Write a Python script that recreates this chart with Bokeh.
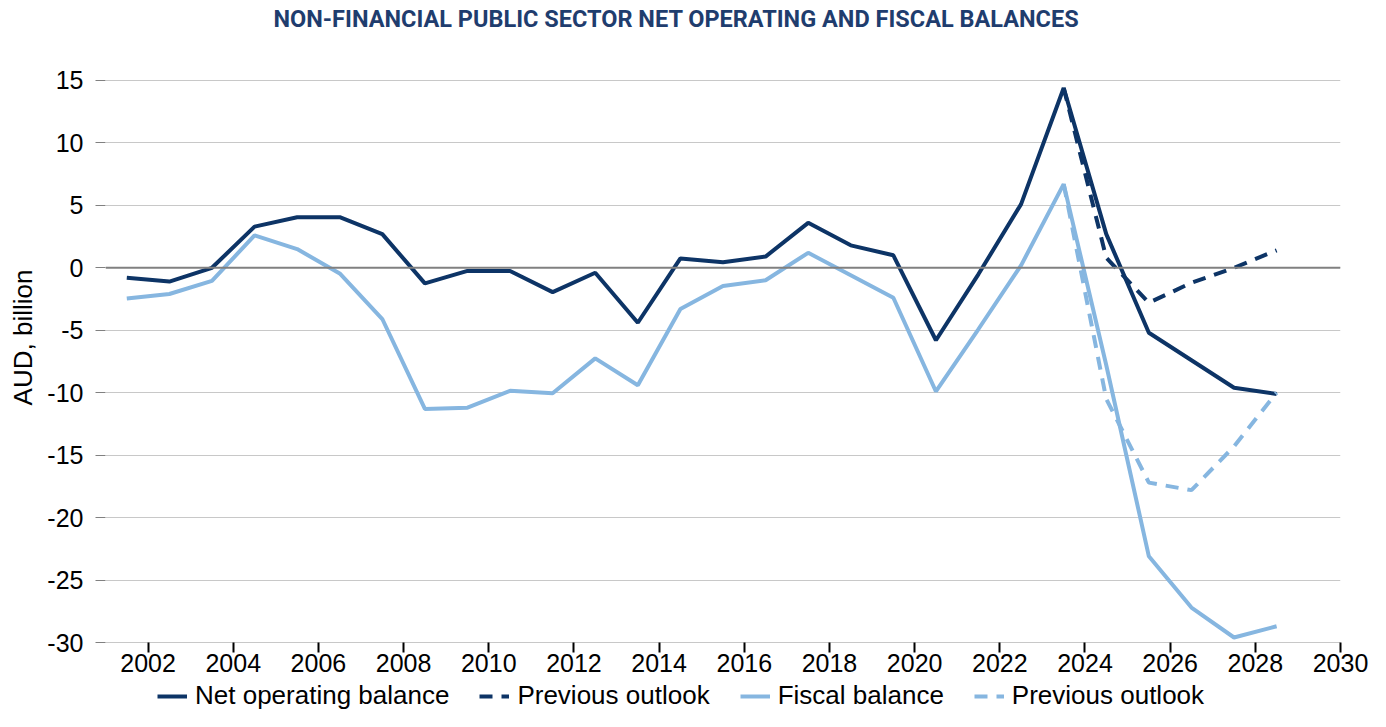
from bokeh.plotting import figure
from bokeh.layouts import column
from bokeh.models import FixedTicker, Span, Legend, LegendItem
from bokeh.embed import file_html
from bokeh.resources import INLINE

# ---- data (fiscal years, plotted at mid-year positions) ----
x_years = [2001.5, 2002.5, 2003.5, 2004.5, 2005.5, 2006.5, 2007.5, 2008.5, 2009.5, 2010.5,
           2011.5, 2012.5, 2013.5, 2014.5, 2015.5, 2016.5, 2017.5, 2018.5, 2019.5, 2020.5,
           2021.5, 2022.5, 2023.5, 2024.5, 2025.5, 2026.5, 2027.5, 2028.5]
net_operating = [-0.8, -1.1, 0.0, 3.3, 4.05, 4.05, 2.7, -1.25, -0.25, -0.25,
                 -1.95, -0.4, -4.4, 0.75, 0.45, 0.9, 3.6, 1.8, 1.0, -5.8,
                 -0.5, 5.1, 14.4, 2.7, -5.2, -7.4, -9.6, -10.1]
fiscal = [-2.45, -2.1, -1.05, 2.6, 1.5, -0.45, -4.1, -11.3, -11.2, -9.85,
          -10.05, -7.25, -9.4, -3.3, -1.45, -1.0, 1.2, -0.6, -2.4, -9.9,
          -4.9, 0.2, 6.7, -7.8, -23.1, -27.2, -29.6, -28.7]
x_prev = [2023.5, 2024.5, 2025.5, 2026.5, 2027.5, 2028.5]
net_operating_prev = [14.4, 0.8, -2.8, -1.2, 0.0, 1.4]
fiscal_prev = [6.7, -10.5, -17.2, -17.8, -14.3, -10.0]

series_labels = ["Net operating balance", "Previous outlook", "Fiscal balance", "Previous outlook"]

x_ticks = [2002, 2004, 2006, 2008, 2010, 2012, 2014, 2016, 2018, 2020, 2022, 2024, 2026, 2028, 2030]
y_ticks = [-30, -25, -20, -15, -10, -5, 0, 5, 10, 15]
y_tick_labels = {t: str(t) for t in y_ticks}

DARK = "#0d3466"
LIGHT = "#86b6e0"
FONT = "Liberation Sans"
DASH = "13 9"
LW = 4

series = [
    (x_years, net_operating, DARK, "solid"),
    (x_prev, net_operating_prev, DARK, DASH),
    (x_years, fiscal, LIGHT, "solid"),
    (x_prev, fiscal_prev, LIGHT, DASH),
]

# ---------------- main chart ----------------
p = figure(width=1370, height=681, x_range=(2001, 2030), y_range=(-30, 18.84),
           output_backend="svg", toolbar_location=None,
           min_border_left=105, min_border_right=30, min_border_top=32, min_border_bottom=39)

p.title.text = "NON-FINANCIAL PUBLIC SECTOR NET OPERATING AND FISCAL BALANCES"
p.title.align = "left"
p.title.offset = 168
p.title.text_font = "Roboto"
p.title.text_font_style = "bold"
p.title.text_font_size = "23.5px"
p.title.text_color = "#1f3d6e"
p.title.standoff = 0

p.outline_line_color = None
p.background_fill_color = "white"
p.border_fill_color = "white"

# y axis
p.yaxis.ticker = FixedTicker(ticks=y_ticks)
p.yaxis.major_label_overrides = y_tick_labels
p.yaxis.axis_line_color = None
p.yaxis.major_tick_out = 10
p.yaxis.major_tick_in = 0
p.yaxis.major_tick_line_color = "#808080"
p.yaxis.minor_tick_line_color = None
p.yaxis.major_label_text_font = FONT
p.yaxis.major_label_text_font_size = "25px"
p.yaxis.major_label_text_color = "#000000"
p.yaxis.major_label_standoff = 12
p.yaxis.axis_label = "AUD, billion"
p.yaxis.axis_label_text_font = FONT
p.yaxis.axis_label_text_font_style = "normal"
p.yaxis.axis_label_text_font_size = "26px"
p.yaxis.axis_label_text_color = "#000000"
p.yaxis.axis_label_standoff = 6

# x axis
p.xaxis.ticker = FixedTicker(ticks=x_ticks)
p.xaxis.axis_line_color = "#c8c8c8"
p.xaxis.major_tick_out = 10
p.xaxis.major_tick_in = 0
p.xaxis.major_tick_line_color = "#000000"
p.xaxis.major_tick_line_width = 2
p.xaxis.minor_tick_line_color = None
p.xaxis.major_label_text_font = FONT
p.xaxis.major_label_text_font_size = "25px"
p.xaxis.major_label_text_color = "#000000"
p.xaxis.major_label_standoff = 1

p.xgrid.visible = False
p.ygrid.ticker = FixedTicker(ticks=y_ticks)
p.ygrid.grid_line_color = "#c8c8c8"
p.ygrid.grid_line_width = 1

p.add_layout(Span(location=0, dimension="width", line_color="#808080", line_width=2))

for xs, ys, col, dash in series:
    p.line(xs, ys, line_color=col, line_width=LW, line_dash=dash)

# ---------------- legend strip (frame aligned with main chart) ----------------
lf = figure(width=1370, height=30, x_range=(0, 1), y_range=(0, 1),
            output_backend="svg", toolbar_location=None,
            x_axis_location=None, y_axis_location=None,
            min_border_left=0, min_border_right=0, min_border_top=0, min_border_bottom=0)
lf.outline_line_color = None
lf.xgrid.visible = False
lf.ygrid.visible = False
lf.background_fill_color = "white"
lf.border_fill_color = "white"

items = []
for label, (xs, ys, col, dash) in zip(series_labels, series):
    # same series, lying outside this strip's ranges: only their legend glyphs show
    r = lf.line(xs, ys, line_color=col, line_width=LW, line_dash=dash)
    items.append(LegendItem(label=label, renderers=[r]))

legend = Legend(items=items, orientation="horizontal", location=(52, 0),
                glyph_width=30, label_standoff=8, spacing=30, padding=0, margin=0,
                border_line_color=None, background_fill_alpha=0,
                label_text_font=FONT, label_text_font_size="26px", label_text_color="#000000")
lf.add_layout(legend)

layout = column(p, lf, spacing=0)
open("out.html", "w").write(file_html(layout, INLINE))
